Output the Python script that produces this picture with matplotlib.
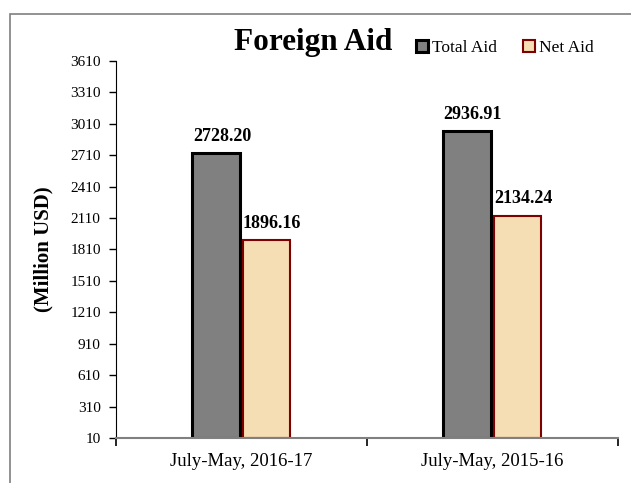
import matplotlib.pyplot as plt
from matplotlib.patches import Rectangle
import numpy as np

# data
categories = ["July-May, 2016-17", "July-May, 2015-16"]
total_aid = [2728.20, 2936.91]
net_aid = [1896.16, 2134.24]
y_ticks = list(range(10, 3611, 300))

plt.rcParams['font.family'] = ['Liberation Serif', 'DejaVu Serif']

fig = plt.figure(figsize=(6.31, 4.83), dpi=100)
ax = fig.add_axes([0.1838, 0.0932, 0.7952, 0.7805])

# outer chart frame (runs off the right and bottom edges)
fig.patches.append(Rectangle((10 / 631, -0.1), 1.2, 1.1 - 14 / 483,
                             transform=fig.transFigure, fill=False,
                             edgecolor='#7f7f7f', linewidth=1.2))

x = np.arange(len(categories))
w = 0.19
b1 = ax.bar(x - 0.1, np.array(total_aid) - 10, w, bottom=10, color='#808080',
            edgecolor='black', linewidth=2.2, label='Total Aid')
b2 = ax.bar(x + 0.1, np.array(net_aid) - 10, w, bottom=10, color='#f5deb3',
            edgecolor='#7f0000', linewidth=1.5, label='Net Aid')

# value labels
for bars, vals in [(b1, total_aid), (b2, net_aid)]:
    for r, v in zip(bars, vals):
        ax.annotate(f"{v:.2f}", (r.get_x() + r.get_width() / 2, v),
                    xytext=(4, 6), textcoords='offset points',
                    ha='center', va='bottom', fontsize=13, fontweight='bold')

ax.set_xlim(-0.5, 1.5)
ax.set_ylim(10, 3610)
ax.set_yticks(y_ticks)
ax.tick_params(axis='y', labelsize=11, direction='out', length=5, width=1, pad=6)

ax.set_xticks(x)
ax.set_xticklabels(categories)
ax.set_xticks([-0.5, 0.5, 1.5], minor=True)
ax.tick_params(axis='x', which='major', length=0, labelsize=13.5, pad=11)
ax.tick_params(axis='x', which='minor', length=6, width=1.2, color='black')

for s in ['top', 'right']:
    ax.spines[s].set_visible(False)
ax.spines['left'].set_color('black')
ax.spines['bottom'].set_color('#808080')
ax.spines['bottom'].set_linewidth(1.5)

ax.set_ylabel("(Million USD)", fontsize=15, fontweight='bold', labelpad=12)
fig.text(0.496, 0.913, "Foreign Aid", ha='center', va='center',
         fontsize=22.5, fontweight='bold')

fig.legend(handles=[b1, b2], loc='center', bbox_to_anchor=(0.800, 0.900),
           ncol=2, frameon=False, fontsize=12.5, handlelength=0.7,
           handleheight=0.7, handletextpad=0.2, columnspacing=1.5)

fig.savefig("out.png", dpi=100)
